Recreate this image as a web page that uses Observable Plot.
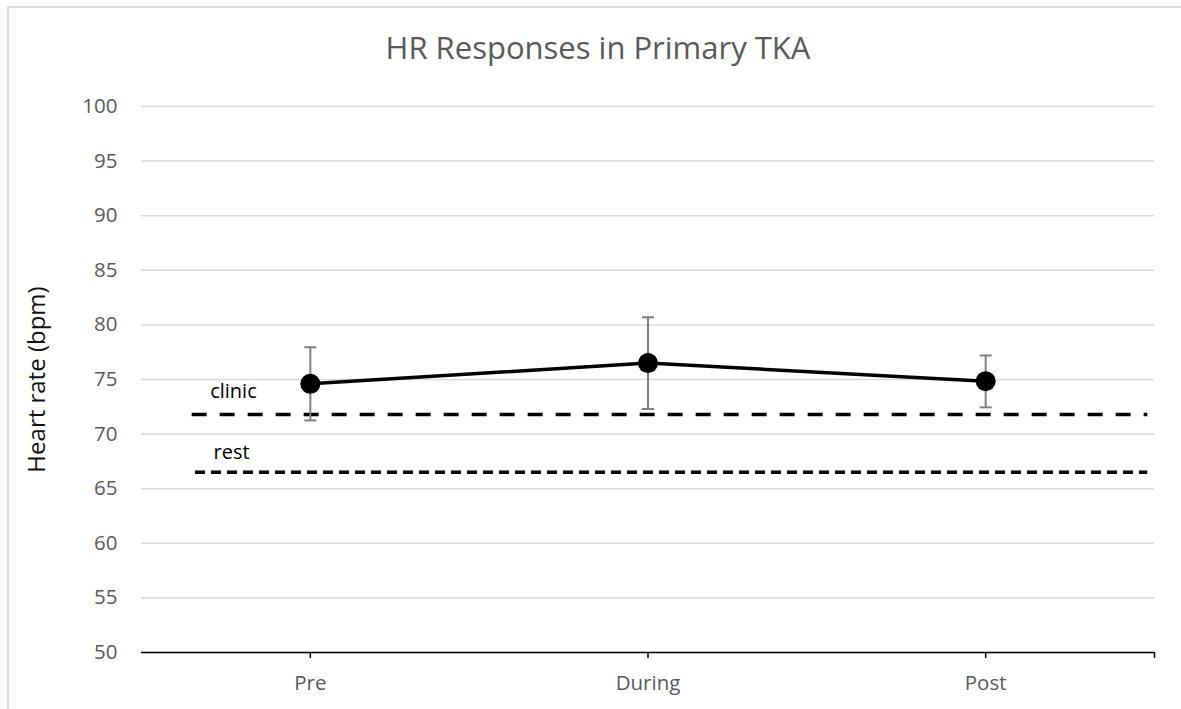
<!DOCTYPE html>
<html>
<head>
<meta charset="utf-8">
<script src="https://cdn.jsdelivr.net/npm/d3@7"></script>
<script src="https://cdn.jsdelivr.net/npm/@observablehq/plot@0.6"></script>
<style>
  html, body { margin: 0; padding: 0; background: #fff; overflow: hidden; }
  #wrap { position: relative; width: 1181px; height: 709px; overflow: hidden; }
  #frame { position: absolute; left: 7px; top: 6px; width: 1400px; height: 900px;
           border-left: 2px solid #d9d9d9; border-top: 2px solid #d9d9d9; box-sizing: border-box; }
  #title { position: absolute; left: 598px; top: 26px; transform: translateX(-50%);
           font-family: "Open Sans", sans-serif; font-size: 31px; color: #595959; white-space: nowrap; line-height: 42px; }
  #chart { position: absolute; left: 0; top: 90px; }
</style>
</head>
<body>
<div id="wrap">
  <div id="frame"></div>
  <div id="title">HR Responses in Primary TKA</div>
  <div id="chart"></div>
</div>
<script>
const categories = ["Pre", "During", "Post"];
const categoryPos = [1, 2, 3];
const xTickPos = [1, 2, 3, 3.5];
const hrMean = [74.6, 76.5, 74.85];
const hrLow = [71.25, 72.3, 72.45];
const hrHigh = [77.95, 80.7, 77.2];
const refNames = ["clinic", "rest"];
const refValues = [71.8, 66.5];
const refStart = [0.65, 0.66];
const refEnd = [3.48, 3.48];
const refLabelY = [73.9, 68.3];
const yTicks = [50, 55, 60, 65, 70, 75, 80, 85, 90, 95, 100];

const pts = categories.map((c, i) => ({cat: c, x: categoryPos[i], y: hrMean[i], lo: hrLow[i], hi: hrHigh[i]}));
const refs = refNames.map((n, i) => ({name: n, y: refValues[i], x1: refStart[i], x2: refEnd[i], ly: refLabelY[i]}));

const capSymbol = {
  draw(context, size) {
    const w = Math.sqrt(size / Math.PI);
    context.moveTo(-w, 0);
    context.lineTo(w, 0);
  }
};

const font = "'Open Sans', sans-serif";

const plot = Plot.plot({
  width: 1181,
  height: 619,
  marginLeft: 141,
  marginRight: 27,
  marginTop: 16,
  marginBottom: 57,
  style: {fontFamily: font, background: "transparent", overflow: "visible"},
  x: {type: "linear", domain: [0.5, 3.5]},
  y: {domain: [50, 100]},
  marks: [
    Plot.gridY(yTicks, {stroke: "#d9d9d9", strokeWidth: 1.5, strokeOpacity: 1}),
    Plot.axisY(yTicks, {tickSize: 0, tickPadding: 24, fontSize: 20.5, fill: "#595959", label: null}),
    Plot.axisX(xTickPos, {tickSize: 6, stroke: "#000", strokeWidth: 1.5, text: null, label: null}),
    Plot.axisX(categoryPos, {tickSize: 0, tickPadding: 23, fontSize: 20.5, fill: "#595959", label: null,
      tickFormat: (d) => categories[categoryPos.indexOf(d)]}),
    Plot.ruleY([50], {stroke: "#000", strokeWidth: 1.5}),
    Plot.text(["Heart rate (bpm)"], {frameAnchor: "left", textAnchor: "middle", dx: -104, rotate: -90, fontSize: 24, fill: "#111", fontFamily: font}),
    Plot.ruleY(refs.filter(d => d.name === "clinic"), {y: "y", x1: "x1", x2: "x2", stroke: "#000", strokeWidth: 3.5, strokeDasharray: "15,13"}),
    Plot.ruleY(refs.filter(d => d.name === "rest"), {y: "y", x1: "x1", x2: "x2", stroke: "#000", strokeWidth: 3.5, strokeDasharray: "10,6"}),
    Plot.text(refs, {x: (d) => d.x1, y: "ly", text: "name", textAnchor: "start", dx: 18, fontSize: 20, fill: "#000"}),
    Plot.ruleX(pts, {x: "x", y1: "lo", y2: "hi", stroke: "#7f7f7f", strokeWidth: 2}),
    Plot.dot(pts, {x: "x", y: "lo", symbol: capSymbol, r: 6, stroke: "#7f7f7f", strokeWidth: 2, fill: "none"}),
    Plot.dot(pts, {x: "x", y: "hi", symbol: capSymbol, r: 6, stroke: "#7f7f7f", strokeWidth: 2, fill: "none"}),
    Plot.line(pts, {x: "x", y: "y", stroke: "#000", strokeWidth: 3.5}),
    Plot.dot(pts, {x: "x", y: "y", r: 10, fill: "#000", stroke: "none"})
  ]
});
document.getElementById("chart").appendChild(plot);
</script>
</body>
</html>
